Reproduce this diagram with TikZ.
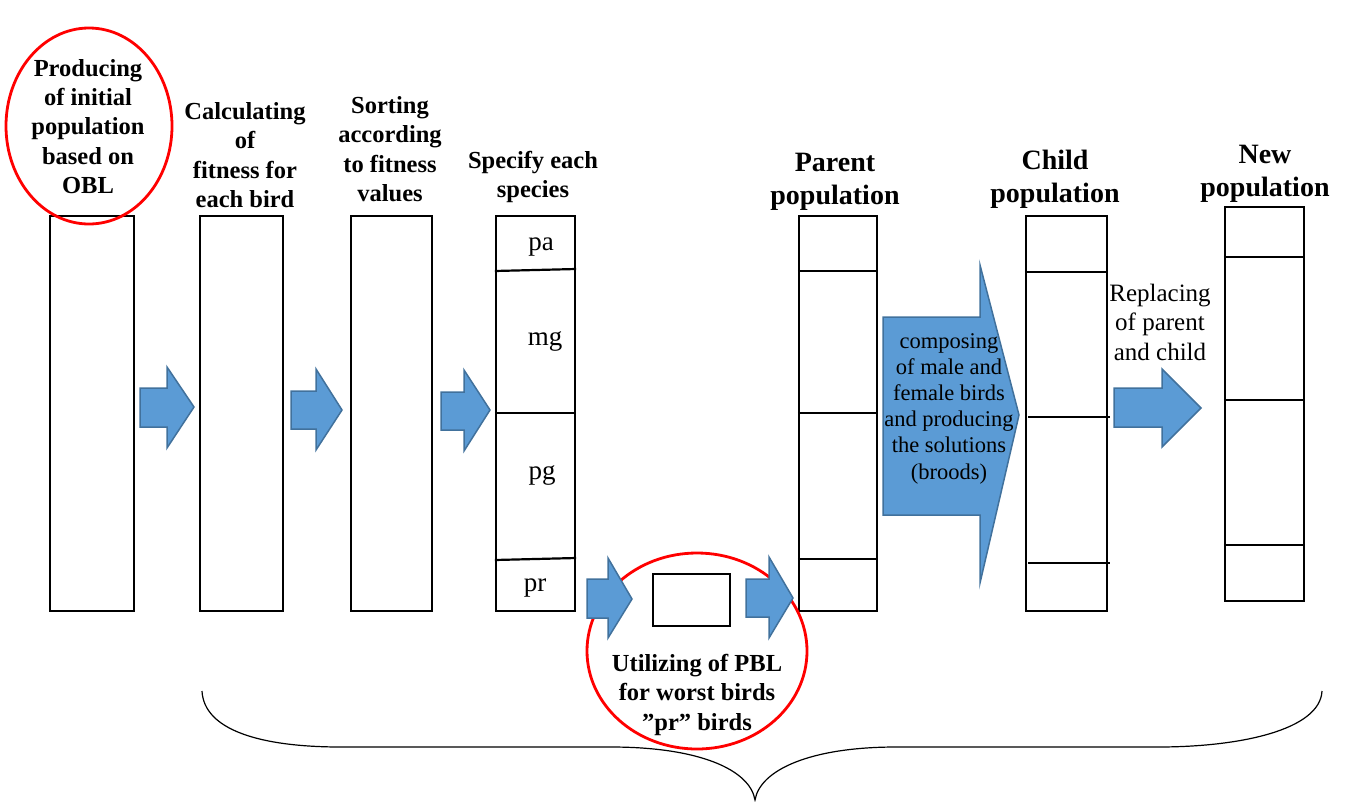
\documentclass[tikz,border=0pt]{standalone}
\usepackage{fontspec}
\setmainfont{Liberation Serif}
\usetikzlibrary{shapes.geometric}
\definecolor{blk}{HTML}{5B9BD5}
\definecolor{blkedge}{HTML}{41719C}
\begin{document}
\begin{tikzpicture}[x=1pt,y=-1pt,
  col/.style={draw, line width=2.4pt, inner sep=0pt, minimum height=395pt},
  divl/.style={line width=2.2pt},
  hdr/.style={font=\bfseries\fontsize{24.5}{29.3}\selectfont, align=center, inner sep=0pt},
  bighdr/.style={font=\bfseries\fontsize{28}{33.5}\selectfont, align=center, inner sep=0pt},
  lab/.style={font=\fontsize{27}{32}\selectfont, inner sep=0pt},
  note/.style={font=\fontsize{22.5}{26.2}\selectfont, align=center, inner sep=0pt},
  barrow/.style={fill=blk, draw=blkedge, line width=1.5pt, line join=miter},
  redell/.style={draw=red, line width=2.8pt, ellipse, inner sep=0pt}]
\useasboundingbox (0,0) rectangle (1346,801);

% boxes
\node[col, minimum width=84pt] (b1) at (92,413.5) {};
\node[col, minimum width=83pt] (b2) at (241.5,413.5) {};
\node[col, minimum width=81pt] (b3) at (391.5,413.5) {};
\node[col, minimum width=79pt] (b4) at (535.5,413.5) {};
\node[col, minimum width=77pt, minimum height=52pt] (b5) at (691.5,600) {};
\node[col, minimum width=78pt] (b6) at (838,413.5) {};
\node[col, minimum width=81pt] (b7) at (1066.5,413.5) {};
\node[col, minimum width=79pt, minimum height=394pt] (b8) at (1264.5,404) {};

% dividers
\draw[divl] (b4.west |- 0,271) -- (b4.east |- 0,269);
\draw[divl] (b4.west |- 0,413) -- (b4.east |- 0,413);
\draw[divl] (b4.west |- 0,560) -- (b4.east |- 0,558);
\draw[divl] (b6.west |- 0,271) -- (b6.east |- 0,271);
\draw[divl] (b6.west |- 0,413) -- (b6.east |- 0,413);
\draw[divl] (b6.west |- 0,559) -- (b6.east |- 0,559);
\draw[divl] (b7.west |- 0,272) -- (b7.east |- 0,272);
\draw[divl] (1028,417) -- (1110,417);
\draw[divl] (1028,563) -- (1110,563);
\draw[divl] (b8.west |- 0,257) -- (b8.east |- 0,257);
\draw[divl] (b8.west |- 0,400) -- (b8.east |- 0,400);
\draw[divl] (b8.west |- 0,545) -- (b8.east |- 0,545);

% species labels
\node[lab] (pa) at (541,247) {pa};
\node[lab] (mg) at (545,341) {mg};
\node[lab] (pg) at (542,475) {pg};
\node[lab] (pr) at (535,588) {pr};

% headers
\node[hdr] (h1) at (88,126.5) {Producing\\of initial\\population\\based on\\OBL};
\node[hdr] (h2) at (245,155) {Calculating\\of\\fitness for\\each bird};
\node[hdr] (h3) at (390,149) {Sorting\\according\\to fitness\\values};
\node[hdr] (h4) at (533,177) {Specify each\\species};
\node[bighdr] (h6) at (835,182) {Parent\\population};
\node[bighdr] (h7) at (1055,179.5) {Child\\population};
\node[bighdr] (h8) at (1265,174) {New\\population};

% red ellipses
\node[redell, minimum width=166pt, minimum height=196pt] (e1) at (89,126) {};
\node[redell, minimum width=220pt, minimum height=196pt] (e2) at (697,651) {};
\node[hdr, font=\bfseries\fontsize{24.5}{29.5}\selectfont] (h5) at (697,694.5) {Utilizing of PBL\\for worst birds\\”pr” birds};

% block arrows
\draw[barrow] (140,388) -- (167,388) -- (167,367) -- (194,407) -- (167,448) -- (167,427) -- (140,427) -- cycle;
\draw[barrow] (291,391) -- (316,391) -- (316,369) -- (342,410) -- (316,450) -- (316,429) -- (291,429) -- cycle;
\draw[barrow] (441,392) -- (464,392) -- (464,370) -- (490,410) -- (464,451) -- (464,430) -- (441,430) -- cycle;
\draw[barrow] (587,579) -- (608,579) -- (608,558) -- (632,599) -- (608,638) -- (608,618) -- (587,618) -- cycle;
\draw[barrow] (746,579) -- (769,579) -- (769,557) -- (793,598) -- (769,638) -- (769,617) -- (746,617) -- cycle;
\draw[barrow] (883,317) -- (980,317) -- (980,265) -- (1019,415) -- (980,583) -- (980,515) -- (883,515) -- cycle;
\draw[barrow] (1114,388) -- (1162,388) -- (1162,369) -- (1201,408) -- (1162,447) -- (1162,427) -- (1114,427) -- cycle;

\node[note] (t1) at (949,408.5) {composing\\of male and\\female birds\\and producing\\the solutions\\(broods)};
\node[font=\fontsize{25}{29.5}\selectfont, align=center, inner sep=0pt] (t2) at (1160,322) {Replacing\\of parent\\and child};

% brace
\coordinate (bl) at (202,691);
\coordinate (br) at (1322,691);
\coordinate (bt) at (755,800);
\draw[line width=1.2pt] (bl) .. controls (204,730) and (260,747) .. (341,747) -- (611,747)
  .. controls (700,747) and (750,770) .. (bt)
  .. controls (760,770) and (810,747) .. (896,747) -- (1158,747)
  .. controls (1240,747) and (1320,730) .. (br);
\end{tikzpicture}
\end{document}
